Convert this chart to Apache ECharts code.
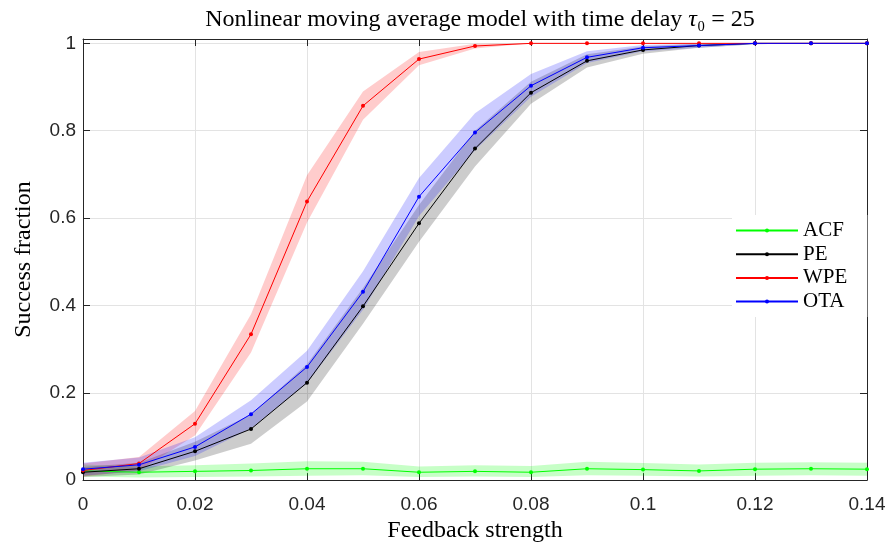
<!DOCTYPE html>
<html><head><meta charset="utf-8">
<script src="https://cdn.jsdelivr.net/npm/echarts@6/dist/echarts.min.js"></script>
<style>html,body{margin:0;padding:0;background:#fff}#c{width:889px;height:548px}</style>
</head><body><div id="c"></div>
<script>
// Feedback strength (x)
const xs = [0, 0.01, 0.02, 0.03, 0.04, 0.05, 0.06, 0.07, 0.08, 0.09, 0.10, 0.11, 0.12, 0.13, 0.14];
const xTicks = [0, 0.02, 0.04, 0.06, 0.08, 0.1, 0.12, 0.14];
const yTicks = [0, 0.2, 0.4, 0.6, 0.8, 1];

// ACF
const acfMean = [0.021, 0.018, 0.020, 0.022, 0.026, 0.026, 0.018, 0.020, 0.018, 0.026, 0.024, 0.021, 0.025, 0.026, 0.025];
const acfLo   = [0.008, 0.006, 0.007, 0.008, 0.010, 0.011, 0.007, 0.008, 0.007, 0.011, 0.010, 0.008, 0.010, 0.011, 0.010];
const acfHi   = [0.036, 0.031, 0.034, 0.038, 0.043, 0.042, 0.031, 0.034, 0.032, 0.042, 0.039, 0.036, 0.040, 0.041, 0.040];
// PE
const peMean = [0.018, 0.026, 0.066, 0.117, 0.223, 0.398, 0.588, 0.759, 0.887, 0.960, 0.985, 0.995, 1.0, 1.0, 1.0];
const peLo   = [0.007, 0.013, 0.045, 0.083, 0.180, 0.358, 0.546, 0.718, 0.862, 0.945, 0.976, 0.990, 0.998, 1.0, 1.0];
const peHi   = [0.030, 0.040, 0.088, 0.150, 0.265, 0.440, 0.630, 0.800, 0.912, 0.975, 0.993, 0.999, 1.0, 1.0, 1.0];
// WPE
const wpeMean = [0.022, 0.038, 0.129, 0.334, 0.638, 0.857, 0.964, 0.994, 1.0, 1.0, 1.0, 1.0, 1.0, 1.0, 1.0];
const wpeLo   = [0.008, 0.022, 0.102, 0.292, 0.590, 0.825, 0.950, 0.988, 1.0, 1.0, 1.0, 1.0, 1.0, 1.0, 1.0];
const wpeHi   = [0.038, 0.053, 0.158, 0.380, 0.698, 0.890, 0.980, 0.999, 1.0, 1.0, 1.0, 1.0, 1.0, 1.0, 1.0];
// OTA
const otaMean = [0.025, 0.035, 0.076, 0.151, 0.259, 0.431, 0.649, 0.796, 0.903, 0.968, 0.990, 0.995, 1.0, 1.0, 1.0];
const otaLo   = [0.010, 0.020, 0.055, 0.118, 0.222, 0.390, 0.605, 0.755, 0.878, 0.955, 0.982, 0.990, 0.998, 1.0, 1.0];
const otaHi   = [0.040, 0.052, 0.098, 0.183, 0.296, 0.478, 0.692, 0.840, 0.930, 0.982, 0.996, 0.999, 1.0, 1.0, 1.0];

const chart = echarts.init(document.getElementById('c'), null, {renderer: 'canvas'});
const serif = 'Liberation Serif';
const sans = 'Liberation Sans';
const axisColor = '#262626';

function band(lo, hi, fill) {
  return {
    type: 'custom', silent: true, animation: false,
    data: xs.map((x, i) => [x, lo[i], hi[i]]),
    encode: {x: 0, y: [1, 2]},
    renderItem: function (params, api) {
      if (params.dataIndex !== 0) return null;
      const pts = [];
      for (let i = 0; i < xs.length; i++) pts.push(api.coord([xs[i], hi[i]]));
      for (let i = xs.length - 1; i >= 0; i--) pts.push(api.coord([xs[i], lo[i]]));
      return {type: 'polygon', shape: {points: pts}, style: {fill: fill, stroke: null}};
    }
  };
}
function line(name, mean, color) {
  return {
    name: name, type: 'line', animation: false,
    data: xs.map((x, i) => [x, mean[i]]),
    symbol: 'circle', symbolSize: 4, showSymbol: true,
    lineStyle: {width: 1, color: color},
    itemStyle: {color: color},
    emphasis: {disabled: true}
  };
}
const fmt = v => {
  const r = Math.round(v * 100) / 100;
  return String(r);
};

chart.setOption({
  backgroundColor: '#fff',
  animation: false,
  title: {
    text: 'Nonlinear moving average model with time delay {t|τ}₀ = 25',
    left: 475, top: 3, textAlign: 'center',
    textStyle: {fontFamily: serif, fontSize: 24, fontWeight: 'normal', color: '#000',
      rich: {t: {fontFamily: serif, fontSize: 24, fontStyle: 'italic', color: '#000'}}}
  },
  grid: {left: 83, right: 22, top: 39, bottom: 57},
  legend: {
    data: ['ACF', 'PE', 'WPE', 'OTA'], orient: 'vertical',
    left: 732, top: 215, itemWidth: 62, itemHeight: 5, itemGap: 2.7,
    padding: [5, 20, 5, 3], backgroundColor: '#fff', selectedMode: false,
    textStyle: {fontFamily: serif, fontSize: 21, color: '#000', lineHeight: 20}
  },
  xAxis: [{
    type: 'value', min: 0, max: 0.14, interval: 0.02, position: 'bottom',
    axisLine: {show: true, onZero: false, lineStyle: {color: axisColor, width: 1}},
    axisTick: {show: true, inside: true, length: 7, lineStyle: {color: axisColor}},
    axisLabel: {fontFamily: sans, fontSize: 19, color: axisColor, margin: 15, formatter: fmt},
    splitLine: {show: true, lineStyle: {color: '#e3e3e3', width: 1}},
    name: 'Feedback strength', nameLocation: 'middle', nameGap: 38,
    nameTextStyle: {fontFamily: serif, fontSize: 24, color: '#000'}
  }, {
    type: 'value', min: 0, max: 0.14, interval: 0.02, position: 'top',
    axisLine: {show: true, onZero: false, lineStyle: {color: axisColor, width: 1}},
    axisTick: {show: true, inside: true, length: 7, lineStyle: {color: axisColor}},
    axisLabel: {show: false}, splitLine: {show: false}
  }],
  yAxis: [{
    type: 'value', min: 0, max: 1.01, interval: 0.2, position: 'left',
    axisLine: {show: true, onZero: false, lineStyle: {color: axisColor, width: 1}},
    axisTick: {show: true, inside: true, length: 7, lineStyle: {color: axisColor}},
    axisLabel: {fontFamily: sans, fontSize: 19, color: axisColor, margin: 7, showMaxLabel: false,
      formatter: v => (yTicks.indexOf(Math.round(v * 10) / 10) >= 0 && Math.abs(v - Math.round(v * 10) / 10) < 1e-6) ? fmt(v) : ''},
    splitLine: {show: true, lineStyle: {color: '#e3e3e3', width: 1}},
    name: 'Success fraction', nameLocation: 'middle', nameGap: 47, nameRotate: 90,
    nameTextStyle: {fontFamily: serif, fontSize: 24, color: '#000'}
  }, {
    type: 'value', min: 0, max: 1.01, interval: 0.2, position: 'right',
    axisLine: {show: true, onZero: false, lineStyle: {color: axisColor, width: 1}},
    axisTick: {show: true, inside: true, length: 7, lineStyle: {color: axisColor}},
    axisLabel: {show: false}, splitLine: {show: false}
  }],
  series: [
    band(acfLo, acfHi, 'rgba(0,255,0,0.22)'),
    line('ACF', acfMean, '#00ff00'),
    band(peLo, peHi, 'rgba(0,0,0,0.2)'),
    line('PE', peMean, '#000000'),
    band(wpeLo, wpeHi, 'rgba(255,0,0,0.2)'),
    line('WPE', wpeMean, '#ff0000'),
    band(otaLo, otaHi, 'rgba(0,0,255,0.2)'),
    line('OTA', otaMean, '#0000ff')
  ]
});
</script>
</body></html>
